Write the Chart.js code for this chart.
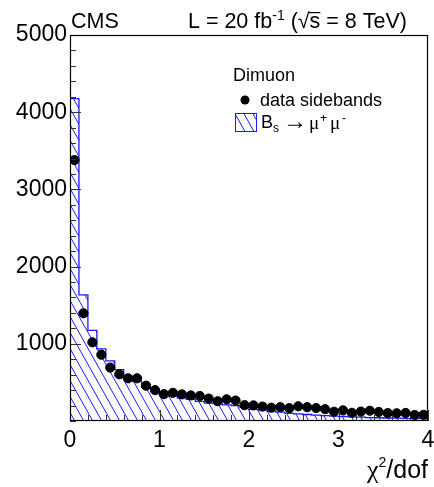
<!DOCTYPE html>
<html>
<head>
<meta charset="utf-8">
<script src="https://cdn.jsdelivr.net/npm/chart.js@4.4.0/dist/chart.umd.min.js"></script>
<style>
  html, body { margin: 0; padding: 0; background: #fff; }
</style>
</head>
<body>
<canvas id="chart" width="434" height="487"></canvas>
<script>
// bins of chi2/dof, width 0.1
const binEdges = [0, 0.1, 0.2, 0.3, 0.4, 0.5, 0.6, 0.7, 0.8, 0.9, 1.0,
  1.1, 1.2, 1.3, 1.4, 1.5, 1.6, 1.7, 1.8, 1.9, 2.0,
  2.1, 2.2, 2.3, 2.4, 2.5, 2.6, 2.7, 2.8, 2.9, 3.0,
  3.1, 3.2, 3.3, 3.4, 3.5, 3.6, 3.7, 3.8, 3.9, 4.0]
const binCenters = [0.05, 0.15, 0.25, 0.35, 0.45, 0.55, 0.65, 0.75, 0.85, 0.95,
  1.05, 1.15, 1.25, 1.35, 1.45, 1.55, 1.65, 1.75, 1.85, 1.95,
  2.05, 2.15, 2.25, 2.35, 2.45, 2.55, 2.65, 2.75, 2.85, 2.95,
  3.05, 3.15, 3.25, 3.35, 3.45, 3.55, 3.65, 3.75, 3.85, 3.95]

// data sidebands (points)
const dataSidebands = [3380, 1395, 1019, 859, 692, 605, 553, 553, 457, 400,
  348, 365, 345, 331, 324, 290, 256, 281, 265, 205,
  202, 187, 172, 179, 166, 190, 179, 168, 153, 120,
  138, 106, 122, 133, 117, 102, 100, 104, 78, 80]

// Bs -> mu mu MC (hatched histogram)
const bsMuMu = [4175, 1635, 1175, 935, 778, 665, 582, 512, 436, 405,
  362, 318, 298, 282, 255, 232, 226, 210, 200, 178,
  150, 140, 128, 115, 100, 92, 84, 77, 70, 63,
  58, 53, 49, 45, 42, 39, 36, 34, 32, 30]

const xTickLabels = [0, 1, 2, 3, 4]
const yTickLabels = [1000, 2000, 3000, 4000, 5000]

const BLUE = '#1a1aff'
const FONT = '"Liberation Sans", Arial, Helvetica, sans-serif'
const SERIF = '"Liberation Serif", "Times New Roman", serif'

//hatch pattern, lines going down to the right
function makeHatch(color) {
  const c = document.createElement('canvas')
  c.width = 9
  c.height = 16
  const g = c.getContext('2d')
  g.strokeStyle = color
  g.lineWidth = 1
  for (const k of [-1, 0, 1]) {
    g.beginPath()
    g.moveTo(k * 9 - 9, -16)
    g.lineTo(k * 9 + 18, 32)
    g.stroke()
  }
  return g.createPattern(c, 'repeat')
}
const hatch = makeHatch(BLUE)

// step outline of the histogram built from the bins
const histPoints = [{ x: binEdges[0], y: 0 }]
bsMuMu.forEach((v, i) => histPoints.push({ x: binEdges[i], y: v }))
histPoints.push({ x: binEdges[binEdges.length - 1], y: bsMuMu[bsMuMu.length - 1] })
histPoints.push({ x: binEdges[binEdges.length - 1], y: 0 })

const pointData = binCenters.map((x, i) => ({ x: x, y: dataSidebands[i] }))

// frame + inward ticks
const frameTicks = {
  id: 'frameTicks',
  afterDatasetsDraw(chart) {
    const { ctx, chartArea: a, scales: { x, y } } = chart
    ctx.save()
    ctx.strokeStyle = '#333'
    ctx.lineWidth = 1
    ctx.beginPath()
    for (const t of y.ticks) {
      const py = Math.round(y.getPixelForValue(t.value)) + 0.5
      const len = yTickLabels.includes(t.value) ? 11 : 6
      ctx.moveTo(a.left, py)
      ctx.lineTo(a.left + len, py)
    }
    for (const t of x.ticks) {
      const px = Math.round(x.getPixelForValue(t.value)) + 0.5
      const major = xTickLabels.some(v => Math.abs(v - t.value) < 1e-6)
      ctx.moveTo(px, a.bottom)
      ctx.lineTo(px, a.bottom - (major ? 11 : 6))
    }
    ctx.stroke()
    ctx.strokeStyle = '#000'
    ctx.lineWidth = 1.2
    ctx.strokeRect(a.left + 0.5, a.top + 0.5, a.right - a.left - 1, a.bottom - a.top - 1)
    ctx.restore()
  }
}

// texts: CMS, lumi, legend, axis title
const texts = {
  id: 'texts',
  afterDraw(chart) {
    const ctx = chart.ctx
    const a = chart.chartArea
    ctx.save()
    ctx.fillStyle = '#000'
    ctx.textBaseline = 'alphabetic'
    ctx.textAlign = 'left'

    ctx.font = '21.5px ' + FONT
    ctx.fillText('CMS', 71, 28)

    // L = 20 fb^-1 (sqrt(s) = 8 TeV), right aligned
    const parts = [
      { t: 'L = 20 fb', f: '21.5px ' + FONT, dy: 0 },
      { t: '-1', f: '14px ' + FONT, dy: -8 },
      { t: ' (', f: '21.5px ' + FONT, dy: 0 },
      { t: '\u221A', f: '21.5px ' + FONT, dy: 0 },
      { t: 's', f: '21.5px ' + FONT, dy: 0, over: true },
      { t: ' = 8 TeV)', f: '21.5px ' + FONT, dy: 0 }
    ]
    let total = 0
    for (const p of parts) { ctx.font = p.f; p.w = ctx.measureText(p.t).width; total += p.w }
    let cx = 407 - total
    for (const p of parts) {
      ctx.font = p.f
      ctx.fillText(p.t, cx, 28 + p.dy)
      if (p.over) {
        ctx.fillRect(cx - 1, 12, p.w + 1, 1.2)
      }
      cx += p.w
    }

    // legend
    ctx.font = '18px ' + FONT
    ctx.fillText('Dimuon', 233, 81)
    ctx.beginPath()
    ctx.arc(245, 100, 4.5, 0, Math.PI * 2)
    ctx.fill()
    ctx.fillText('data sidebands', 260, 106)

    ctx.fillStyle = hatch
    ctx.fillRect(235, 113, 22, 19)
    ctx.strokeStyle = BLUE
    ctx.lineWidth = 1
    ctx.strokeRect(235.5, 113.5, 21, 18)
    ctx.fillStyle = '#000'
    ctx.font = '18px ' + FONT
    ctx.fillText('B', 261, 128)
    ctx.font = '12px ' + FONT
    ctx.fillText('s', 273, 132)
    ctx.font = '24px ' + FONT
    ctx.fillText('\u2192', 283, 129)
    ctx.font = '19px ' + SERIF
    ctx.fillText('\u03BC', 309, 129)
    ctx.fillText('\u03BC', 330, 129)
    ctx.font = '12px ' + FONT
    ctx.fillText('+', 320, 122)
    ctx.fillText('-', 342, 122)

    // x axis title
    ctx.textAlign = 'right'
    ctx.font = '25px ' + FONT
    const dof = '/dof'
    const wDof = ctx.measureText(dof).width
    ctx.fillText(dof, a.right, 478)
    ctx.font = '14px ' + FONT
    const w2 = ctx.measureText('2').width
    ctx.fillText('2', a.right - wDof, 467)
    ctx.font = '26px ' + SERIF
    ctx.fillText('\u03C7', a.right - wDof - w2, 478)
    ctx.restore()
  }
}

const chart = new Chart(document.getElementById('chart'), {
  type: 'scatter',
  data: {
    datasets: [
      {
        label: 'data sidebands',
        data: pointData,
        backgroundColor: '#000',
        borderColor: '#000',
        pointRadius: 4.6,
        pointHoverRadius: 4.6,
        order: 0
      },
      {
        label: 'Bs -> mu mu',
        data: histPoints,
        showLine: true,
        stepped: 'before',
        fill: 'origin',
        backgroundColor: hatch,
        borderColor: BLUE,
        borderWidth: 1.3,
        pointRadius: 0,
        order: 1
      }
    ]
  },
  options: {
    responsive: false,
    animation: false,
    devicePixelRatio: 1,
    layout: { padding: { top: 35, right: 6, left: 0, bottom: 0 } },
    plugins: {
      legend: { display: false },
      tooltip: { enabled: false }
    },
    scales: {
      x: {
        type: 'linear',
        min: 0,
        max: 4,
        grid: { display: false, drawTicks: false },
        border: { display: false },
        ticks: {
          stepSize: 0.2,
          autoSkip: false,
          maxRotation: 0,
          padding: 6,
          color: '#000',
          font: { family: FONT, size: 23 },
          callback: v => xTickLabels.some(t => Math.abs(t - v) < 1e-6) ? String(Math.round(v)) : ''
        },
        afterFit: s => { s.height = 66; s.paddingLeft = 0; s.paddingRight = 0 }
      },
      y: {
        min: 0,
        max: 5000,
        grid: { display: false, drawTicks: false },
        border: { display: false },
        ticks: {
          stepSize: 200,
          autoSkip: false,
          padding: 3,
          color: '#000',
          font: { family: FONT, size: 23 },
          callback: v => yTickLabels.includes(v) ? String(v) : ''
        },
        afterFit: s => { s.width = 70; s.paddingTop = 0; s.paddingBottom = 0 }
      }
    }
  },
  plugins: [frameTicks, texts]
})
</script>
</body>
</html>
